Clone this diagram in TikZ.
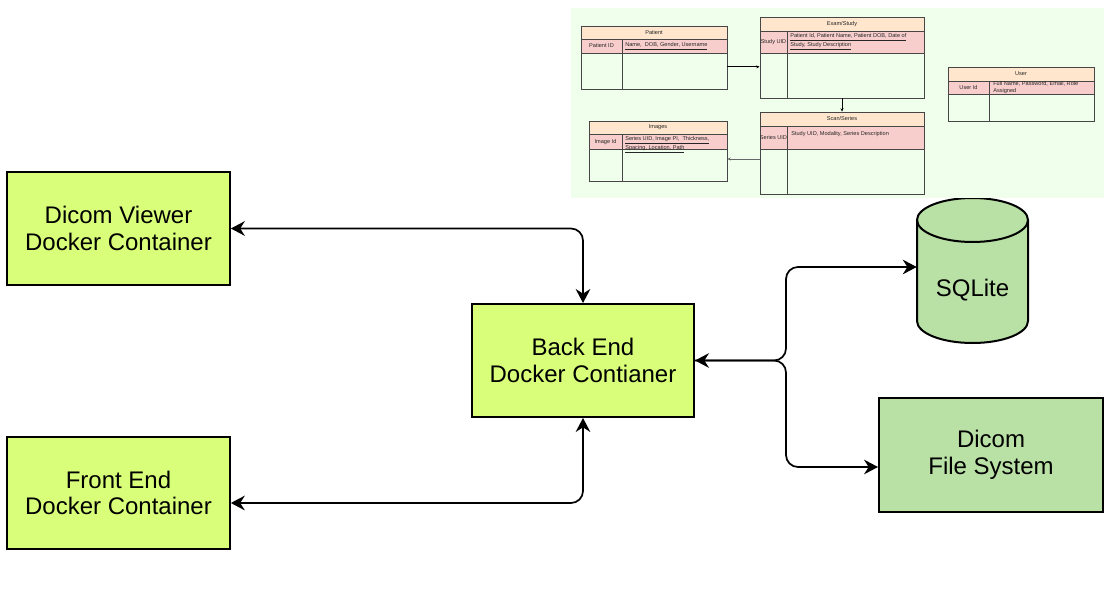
\documentclass[tikz,border=0pt]{standalone}
\usepackage{fontspec}
\setmainfont{Liberation Sans}
\usetikzlibrary{arrows.meta,calc,fit}
\definecolor{lime}{RGB}{217,255,122}
\definecolor{dbgreen}{RGB}{185,224,165}
\definecolor{erbg}{RGB}{240,255,236}
\definecolor{erhead}{RGB}{255,230,204}
\definecolor{erkey}{RGB}{248,206,204}
\definecolor{erline}{RGB}{70,70,70}
\tikzset{
  mainbox/.style={draw=black, line width=1.5pt, fill=lime, align=center, inner sep=0pt,
    font=\fontsize{18}{20}\selectfont, minimum width=167pt, minimum height=84.75pt},
  storebox/.style={mainbox, fill=dbgreen},
  conn/.style={line width=1.3pt, rounded corners=9pt, >={Stealth[length=10.5pt, width=11pt, inset=3.5pt]}},
  ertbl/.style={draw=erline, line width=0.6pt, inner sep=0pt},
  ertxt/.style={font=\fontsize{4.2}{5}\selectfont, inner sep=0pt, text=black!85},
  erarrow/.style={line width=0.5pt, -{Stealth[length=2.5pt,width=2.2pt]}},
}
\begin{document}
\begin{tikzpicture}[x=0.75pt, y=-0.75pt]
\useasboundingbox (0,0) rectangle (1112,602);
\fill[white] (0,0) rectangle (1112,602);

% ---------- SQLite cylinder (drawn before the ER background, which overlaps its top) ----------
\fill[dbgreen] (917,220) -- (917,321) arc[start angle=180,end angle=360,x radius=41.625pt,y radius=16.5pt]
  -- (1028,220) arc[start angle=0,end angle=180,x radius=41.625pt,y radius=16.5pt] -- cycle;
\draw[line width=1.5pt] (917,220) -- (917,321) arc[start angle=180,end angle=360,x radius=41.625pt,y radius=16.5pt]
  -- (1028,220) arc[start angle=0,end angle=180,x radius=41.625pt,y radius=16.5pt] -- cycle;
\draw[line width=1.5pt] (917,220) arc[start angle=180,end angle=360,x radius=41.625pt,y radius=16.5pt];
\node[minimum width=83.25pt, minimum height=107.25pt, inner sep=0pt] (sqlite) at (972.5,270.5) {};
\node[font=\fontsize{18}{20}\selectfont, inner sep=0pt] (sqlitelabel) at (972.5,290) {SQLite};

% ---------- ER diagram panel ----------
\fill[erbg] (571,8) rectangle (1104,198);

% Patient
\fill[erhead] (581,26) rectangle (727,39);
\fill[erkey] (581,39) rectangle (727,53);
\draw[erline, line width=0.6pt] (581,39) -- (727,39) (581,53) -- (727,53) (622,39) -- (622,89);
\node[ertbl, fit={(581,26)(727,89)}] (patient) {};
\node[ertxt] (patientT) at (654,32.5) {Patient};
\node[ertxt] (patientK) at (601.5,46) {Patient ID};
\node[ertxt, anchor=north west] (patientF) at (625,42) {\underline{Name,\ \ DOB, Gender, Username}};

% Exam/Study
\fill[erhead] (760,17) rectangle (924,31);
\fill[erkey] (760,31) rectangle (924,53);
\draw[erline, line width=0.6pt] (760,31) -- (924,31) (760,53) -- (924,53) (787,31) -- (787,98);
\node[ertbl, fit={(760,17)(924,98)}] (exam) {};
\node[ertxt] (examT) at (842,24) {Exam/Study};
\node[ertxt] (examK) at (773.5,42) {Study UID};
\node[ertxt, anchor=north west, align=left] (examF) at (790,33) {\underline{Patient Id, Patient Name, Patient DOB, Date of}\\\underline{Study, Study Description}};

% Scan/Series
\fill[erhead] (760,112) rectangle (924,126);
\fill[erkey] (760,126) rectangle (924,149);
\draw[erline, line width=0.6pt] (760,126) -- (924,126) (760,149) -- (924,149) (787,126) -- (787,194);
\node[ertbl, fit={(760,112)(924,194)}] (scan) {};
\node[ertxt] (scanT) at (842,119) {Scan/Series};
\node[ertxt] (scanK) at (773.5,138) {Series UID};
\node[ertxt, anchor=north west] (scanF) at (791,131) {Study UID, Modality, Series Description};

% Images
\fill[erhead] (589,121) rectangle (727,134);
\fill[erkey] (589,134) rectangle (727,149);
\draw[erline, line width=0.6pt] (589,134) -- (727,134) (589,149) -- (727,149) (622,134) -- (622,181);
\node[ertbl, fit={(589,121)(727,181)}] (images) {};
\node[ertxt] (imagesT) at (658,127.5) {Images};
\node[ertxt] (imagesK) at (605.5,142) {Image Id};
\node[ertxt, anchor=north west, align=left] (imagesF) at (625,136) {\underline{Series UID, Image PI,\ \ Thickness,}\\\underline{Spacing, Location, Path}};

% User
\fill[erhead] (948,67) rectangle (1094,81);
\fill[erkey] (948,81) rectangle (1094,94);
\draw[erline, line width=0.6pt] (948,81) -- (1094,81) (948,94) -- (1094,94) (989,81) -- (989,121);
\node[ertbl, fit={(948,67)(1094,121)}] (user) {};
\node[ertxt] (userT) at (1021,74) {User};
\node[ertxt] (userK) at (968.5,87.5) {User Id};
\node[ertxt, anchor=north west, align=left] (userF) at (993,81.5) {Full Name, Password, Email, Role\\Assigned};

% ER connectors
\draw[erarrow] ([yshift=-7pt]patient.east) -- ([yshift=-7pt]patient.east -| exam.west);
\draw[erarrow] (exam.south) -- (scan.north);
\draw[erarrow, draw=black!60] ([yshift=-4.5pt]scan.west) -- ([yshift=-4.5pt]scan.west -| images.east);

% ---------- main boxes ----------
\node[mainbox] (viewer) at (118.5,228.5) {Dicom Viewer\\Docker Container};
\node[mainbox, minimum height=84pt] (front) at (118.5,493) {Front End\\Docker Container};
\node[mainbox, minimum width=166.5pt] (backend) at (583,360.5) {Back End\\Docker Contianer};
\node[storebox, minimum width=168pt, minimum height=85.5pt] (dicomfs) at (991,455) {Dicom\\File System};

% ---------- main connectors ----------
\coordinate (junction) at (786,360.5);
\draw[conn, <->] (viewer.east) -| (backend.north);
\draw[conn, <->] ([yshift=-7.5pt]front.east) -| (backend.south);
\draw[conn, <->] (backend.east) -- (junction) |- ([yshift=2.625pt]sqlite.west);
\draw[conn, ->] (backend.east) -- (junction) |- ([yshift=-9pt]dicomfs.west);
\end{tikzpicture}
\end{document}
